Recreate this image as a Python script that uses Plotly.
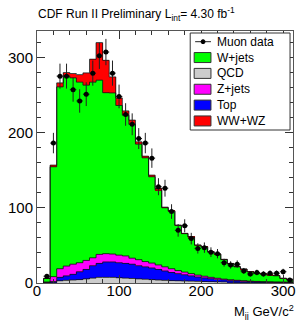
import numpy as np
import plotly.graph_objects as go

# ---------------- data ----------------
bin_edges = list(range(8, 313, 8))          # GeV, 8 GeV bins from 8 to 312
bin_centers = [e + 4 for e in bin_edges[:-1]]

qcd = [0.5, 0.5, 3, 3.5, 4, 4.5, 5.5, 6.5, 7.5, 7.5, 7.5, 7, 6.5, 6, 5.5, 5, 4.5, 4, 3.5,
       3.2, 3, 2.7, 2.5, 2.2, 2, 1.8, 1.6, 1.4, 1.2, 1.0, 0.9, 0.8, 0.7, 0.6, 0.5, 0.5, 0.4, 0.4]
top = [0.3, 1.5, 4.5, 6, 7.5, 10.5, 12.5, 16.5, 18.5, 20.5, 20.5, 20, 19.5, 19, 17.5, 16.5,
       15.5, 14, 12.5, 10.8, 9.5, 8.3, 7, 5.8, 4.8, 4.0, 3.4, 2.8, 2.3, 1.9, 1.5, 1.2, 1.0,
       0.8, 0.7, 0.5, 0.5, 0.4]
zjets = [0.5, 6.5, 11.5, 13, 13.5, 12, 12, 10.5, 12, 11, 10.5, 10, 10, 8, 8, 7, 6.5, 6, 5.5,
         5, 4, 3.5, 3, 2.5, 2.2, 1.7, 1.3, 1.0, 0.8, 0.7, 0.6, 0.5, 0.4, 0.4, 0.3, 0.3, 0.2, 0.2]
wjets = [4.7, 146, 241.7, 252.5, 247.7, 240, 233, 233.5, 231.6, 214, 214.2, 199, 187, 178,
         153.6, 137.9, 114.7, 99.5, 78.5, 76.5, 60, 51.1, 48.5, 39.7, 39, 33.9, 32, 26.1,
         21.6, 18, 15.5, 12.5, 10.7, 10.2, 9.1, 8.4, 5.1, 3.9]
wwwz = [0.1, 2.2, 5.3, 4.8, 5.8, 10, 16.3, 30.5, 50, 43, 21.3, 10, 5.8, 5.5, 3.1, 2.2, 2.2,
        2.2, 0.8, 0.5, 0.5, 0.4, 0.4, 0.3, 0.2, 0.2, 0.2, 0.1, 0.1, 0.1, 0.1, 0.05, 0.05,
        0.05, 0.05, 0.05, 0.05, 0.05]
muon_data = [9, 186, 275, 275, 257, 242, 251, 279, 302, 307, 279, 248, 224, 211, 192, 186,
             166, 128, 126, 95, 70, 76, 59, 46, 47, 41, 39, 27, 24, 25, 16, 12, 14, 12, 13,
             13, 15, 4]
muon_err = [3.0, 13.6, 16.6, 16.6, 16.0, 15.6, 15.8, 16.7, 17.4, 17.5, 16.7, 15.7, 15.0,
            14.5, 13.9, 13.6, 12.9, 11.3, 11.2, 9.7, 8.4, 8.7, 7.7, 6.8, 6.9, 6.4, 6.2, 5.2,
            4.9, 5.0, 4.0, 3.5, 3.7, 3.5, 3.6, 3.6, 3.9, 2.0]

x_ticks = [0, 100, 200, 300]
y_ticks = [0, 100, 200, 300]

# stacking order bottom -> top
components = [
    ("QCD", qcd, "#cccccc"),
    ("Top", top, "#0000ff"),
    ("Z+jets", zjets, "#ff00ff"),
    ("W+jets", wjets, "#00ff00"),
    ("WW+WZ", wwwz, "#ff0000"),
]
legend_order = ["W+jets", "QCD", "Z+jets", "Top", "WW+WZ"]
colour = {n: c for n, _, c in components}

FONT = "Liberation Sans, Arial, Helvetica, sans-serif"
W, H = 299, 320
L, R, T, B = 37, 3, 31, 37
PW, PH = W - L - R, H - T - B

def px(x):
    return (x - L) / PW

def py(y):
    return (H - B - y) / PH

fig = go.Figure()

for name, vals, col in components:
    fig.add_trace(go.Bar(x=bin_centers, y=vals, width=8, name=name,
                         marker=dict(color=col, line=dict(width=0)),
                         showlegend=False, hoverinfo="skip"))

# outline step lines (ROOT style histogram outlines)
cum = np.zeros(len(bin_centers))
step_x = [bin_edges[0]] + bin_edges
for name, vals, col in components:
    cum = cum + np.array(vals, dtype=float)
    step_y = [0.0] + list(cum) + [float(cum[-1])]
    fig.add_trace(go.Scatter(x=step_x + [bin_edges[-1]], y=step_y + [0.0],
                             mode="lines", line=dict(color="#111111", width=0.8, shape="hv"),
                             showlegend=False, hoverinfo="skip"))

fig.add_trace(go.Scatter(
    x=bin_centers, y=muon_data, mode="markers", name="Muon data",
    marker=dict(color="black", size=5),
    error_y=dict(type="data", array=muon_err, color="#222222", thickness=1, width=0),
    error_x=dict(type="constant", value=4, color="#222222", thickness=1, width=0),
    showlegend=False, hoverinfo="skip"))

fig.update_layout(
    width=W, height=H, margin=dict(l=L, r=R, t=T, b=B, pad=0),
    barmode="stack", bargap=0,
    plot_bgcolor="white", paper_bgcolor="white",
    font=dict(family=FONT, color="black"),
    xaxis=dict(range=[0, 312], tickvals=x_ticks, ticktext=[str(v) for v in x_ticks],
               ticks="inside", ticklen=8, tickcolor="#333", showline=True, linecolor="#555",
               linewidth=1, mirror="ticks", showgrid=False, zeroline=False,
               tickfont=dict(size=15, family=FONT), ticklabelstandoff=-6,
               minor=dict(dtick=20, tick0=0, ticks="inside", ticklen=4, tickcolor="#333")),
    yaxis=dict(range=[0, 335], tickvals=y_ticks, ticktext=[str(v) for v in y_ticks],
               ticks="inside", ticklen=8, tickcolor="#333", showline=True, linecolor="#555",
               linewidth=1, mirror="ticks", showgrid=False, zeroline=False,
               tickfont=dict(size=15, family=FONT),
               minor=dict(dtick=20, tick0=0, ticks="inside", ticklen=4, tickcolor="#333")),
)

shapes = []
annotations = []

# title
annotations.append(dict(xref="paper", yref="paper", x=px(36), y=py(14), xanchor="left",
                        yanchor="middle", showarrow=False,
                        text="CDF Run II Preliminary L<sub>int</sub>= 4.30 fb<sup>-1</sup>",
                        font=dict(size=12, family=FONT)))
# x-axis title
annotations.append(dict(xref="paper", yref="paper", x=px(299), y=py(312), xanchor="right",
                        yanchor="middle", showarrow=False,
                        text="M<sub>jj</sub> GeV/c<sup>2</sup>",
                        font=dict(size=13, family=FONT)))

# legend box
shapes.append(dict(type="rect", xref="paper", yref="paper", x0=px(192), x1=px(293),
                   y0=py(130), y1=py(33), line=dict(color="#333", width=1),
                   fillcolor="white", layer="above"))
entry_y = [41.7 + 15.85 * i for i in range(6)]
# muon data entry
c = entry_y[0]
shapes.append(dict(type="line", xref="paper", yref="paper", x0=px(197), x1=px(213),
                   y0=py(c), y1=py(c), line=dict(color="#222", width=1), layer="above"))
shapes.append(dict(type="circle", xref="paper", yref="paper", x0=px(203), x1=px(207),
                   y0=py(c + 2), y1=py(c - 2), line=dict(color="black", width=1),
                   fillcolor="black", layer="above"))
annotations.append(dict(xref="paper", yref="paper", x=px(217), y=py(c), xanchor="left",
                        yanchor="middle", showarrow=False, text="Muon data",
                        font=dict(size=12, family=FONT)))
for i, name in enumerate(legend_order):
    c = entry_y[i + 1]
    shapes.append(dict(type="rect", xref="paper", yref="paper", x0=px(196), x1=px(213),
                       y0=py(c + 5), y1=py(c - 5), line=dict(color="#333", width=1),
                       fillcolor=colour[name], layer="above"))
    annotations.append(dict(xref="paper", yref="paper", x=px(217), y=py(c), xanchor="left",
                            yanchor="middle", showarrow=False, text=name,
                            font=dict(size=12, family=FONT)))

fig.update_layout(shapes=shapes, annotations=annotations)
fig.write_html("out.html", config={"displayModeBar": False},
               post_script="document.body.style.margin='0px';document.body.style.padding='0px';")
